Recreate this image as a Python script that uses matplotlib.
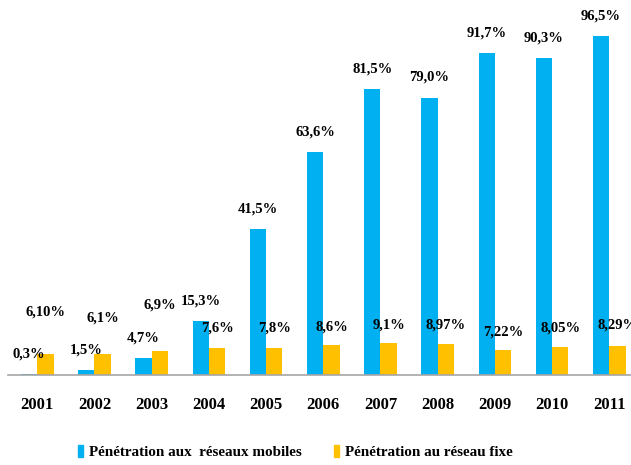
import matplotlib.pyplot as plt
from matplotlib.patches import Patch

years = ['2001', '2002', '2003', '2004', '2005', '2006',
         '2007', '2008', '2009', '2010', '2011']
mobile = [0.3, 1.5, 4.7, 15.3, 41.5, 63.6, 81.5, 79.0, 91.7, 90.3, 96.5]
fixe = [6.10, 6.1, 6.9, 7.6, 7.8, 8.6, 9.1, 8.97, 7.22, 8.05, 8.29]
mobile_labels = ['0,3%', '1,5%', '4,7%', '15,3%', '41,5%', '63,6%',
                 '81,5%', '79,0%', '91,7%', '90,3%', '96,5%']
fixe_labels = ['6,10%', '6,1%', '6,9%', '7,6%', '7,8%', '8,6%',
               '9,1%', '8,97%', '7,22%', '8,05%', '8,29%']
# heights where the fixed-line labels sit in the original
fixe_label_y = [17.9, 16.2, 19.9, 13.4, 13.4, 13.8, 14.3, 14.3, 12.3, 13.5, 14.3]

BLUE = '#00B0F0'
YELLOW = '#FFC000'
FONT = 'Liberation Serif'

plt.rcParams['font.family'] = [FONT, 'DejaVu Serif']

fig = plt.figure(figsize=(6.31, 4.65), dpi=100)
ax = fig.add_axes([8 / 631, 90 / 465, 623 / 631, 375 / 465])

w = 0.285
x = list(range(len(years)))
xm = [i - w / 2 for i in x]
xf = [i + w / 2 for i in x]
ax.bar(xm, mobile, width=w, color=BLUE)
ax.bar(xf, fixe, width=w, color=YELLOW)

for xi, v, lab in zip(xm, mobile, mobile_labels):
    ax.annotate(lab, (xi, v), xytext=(0, 14.5), textcoords='offset points',
                ha='center', va='center', fontsize=10.5, fontweight='bold')
for xi, yl, lab in zip(xf, fixe_label_y, fixe_labels):
    ax.text(xi, yl, lab, ha='center', va='center', fontsize=10.5,
            fontweight='bold')

ax.set_xlim(-0.512, 10.38)
ax.set_ylim(0, 106.8)
ax.set_xticks(x)
ax.set_xticklabels(years, fontsize=12, fontweight='bold')
ax.tick_params(axis='x', length=0, pad=16)
ax.set_yticks([])
for s in ['top', 'right', 'left']:
    ax.spines[s].set_visible(False)
ax.spines['bottom'].set_color('#A6A6A6')
ax.spines['bottom'].set_linewidth(1.2)

handles = [Patch(color=BLUE, label='Pénétration aux  réseaux mobiles'),
           Patch(color=YELLOW, label='Pénétration au réseau fixe')]
fig.legend(handles=handles, loc='center', bbox_to_anchor=(0.468, 0.028),
           ncol=2, frameon=False, handlelength=0.35,
           handleheight=0.85, handletextpad=0.4, columnspacing=2.1,
           prop={'family': FONT, 'weight': 'bold', 'size': 10.9})

fig.savefig('out.png', dpi=100)
